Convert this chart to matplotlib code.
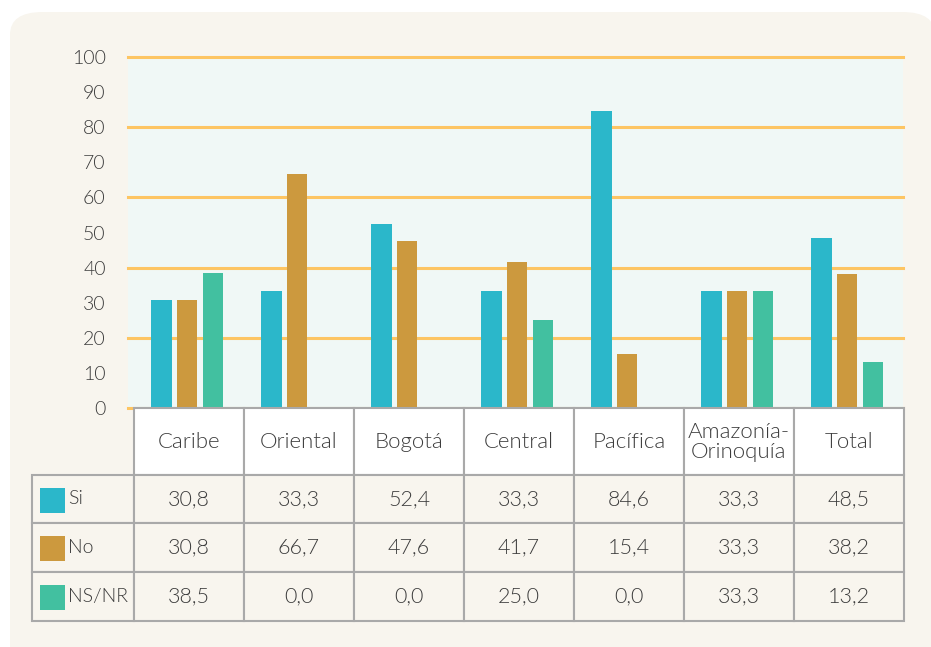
# Bar chart with a data table underneath: Si / No / NS-NR answers by region.

import matplotlib.pyplot as plt
from matplotlib.patches import Rectangle, FancyBboxPatch

# Data
REGIONS = ["Caribe", "Oriental", "Bogotá", "Central", "Pacífica",
           "Amazonía-\nOrinoquía", "Total"]
SI = [30.8, 33.3, 52.4, 33.3, 84.6, 33.3, 48.5]
NO = [30.8, 66.7, 47.6, 41.7, 15.4, 33.3, 38.2]
NSNR = [38.5, 0.0, 0.0, 25.0, 0.0, 33.3, 13.2]
SERIES_NAMES = ["Si", "No", "NS/NR"]
Y_TICKS = list(range(0, 101, 10))

# Styles
COLORS = ["#2bb7ca", "#cc993e", "#42c0a0"]
PANEL_BG = "#f8f5ee"
PLOT_BG = "#f0f8f6"
GRID_COLOR = "#fdc563"
LINE_COLOR = "#a9a9a9"
TEXT_COLOR = "#3c3c3c"
FONT = ["Lato", "DejaVu Sans"]

W, H = 931, 647
plt.rcParams["font.family"] = FONT
plt.rcParams["font.weight"] = 300


def fx(px):
    return px / W


def fy(py):
    return 1 - py / H


fig = plt.figure(figsize=(W / 100, H / 100), dpi=100)
fig.patch.set_facecolor("white")

# Rounded beige panel behind everything
panel = FancyBboxPatch((fx(10), fy(700)), fx(935) - fx(10), fy(12) - fy(700),
                       boxstyle="round,pad=0,rounding_size=0.035",
                       transform=fig.transFigure, facecolor=PANEL_BG,
                       edgecolor="none", zorder=-10)
fig.add_artist(panel)

# Plot area in pixel coordinates
left, right, top, bottom = 128, 903, 57, 408
ax = fig.add_axes([fx(left), fy(bottom), fx(right) - fx(left), fy(top) - fy(bottom)])
ax.set_facecolor(PLOT_BG)

col_w = 110
first_centre = 189
ax.set_xlim((left - first_centre) / col_w, (right - first_centre) / col_w)
ax.set_ylim(0, 100)

bar_w = 0.182
step = 0.236
shift = -0.014
x = list(range(len(REGIONS)))
for k, vals in enumerate([SI, NO, NSNR]):
    pos = [i + shift + (k - 1) * step for i in x]
    ax.bar(pos, vals, width=bar_w, color=COLORS[k], zorder=3)

for y in range(0, 101, 20):
    ax.axhline(y, color=GRID_COLOR, lw=2.2, zorder=2, clip_on=False)

for s in ax.spines.values():
    s.set_visible(False)
ax.set_xticks([])
ax.set_yticks(Y_TICKS)
ax.tick_params(axis="y", length=0, pad=16, labelsize=14, labelcolor=TEXT_COLOR)

# Data table drawn below the plot
col_left = 134
label_left = 32
header_top, header_bottom = 408, 475
row_edges = [475, 523, 572, 621]
n = len(REGIONS)


def cell(x0, y0, x1, y1, face):
    r = Rectangle((fx(x0), fy(y1)), fx(x1) - fx(x0), fy(y0) - fy(y1),
                  transform=fig.transFigure, facecolor=face,
                  edgecolor=LINE_COLOR, lw=1.5, zorder=5)
    fig.add_artist(r)


for i, name in enumerate(REGIONS):
    x0 = col_left + i * col_w
    cell(x0, header_top, x0 + col_w, header_bottom, "white")
    fig.text(fx(x0 + col_w / 2), fy((header_top + header_bottom) / 2), name,
             ha="center", va="center", fontsize=16, color=TEXT_COLOR,
             linespacing=1.0, zorder=6)

for r, (name, vals) in enumerate(zip(SERIES_NAMES, [SI, NO, NSNR])):
    y0, y1 = row_edges[r], row_edges[r + 1]
    cell(label_left, y0, col_left, y1, PANEL_BG)
    sq = Rectangle((fx(40), fy(y0 + 38)), fx(25), fy(y0) - fy(y0 + 25),
                   transform=fig.transFigure, facecolor=COLORS[r],
                   edgecolor="none", zorder=6)
    fig.add_artist(sq)
    fig.text(fx(68), fy((y0 + y1) / 2), name, ha="left", va="center",
             fontsize=14, color=TEXT_COLOR, zorder=6)
    for i, v in enumerate(vals):
        x0 = col_left + i * col_w
        cell(x0, y0, x0 + col_w, y1, PANEL_BG)
        fig.text(fx(x0 + col_w / 2), fy((y0 + y1) / 2),
                 f"{v:.1f}".replace(".", ","), ha="center", va="center",
                 fontsize=15.5, color=TEXT_COLOR, zorder=6)

fig.savefig("out.png", dpi=100, facecolor=fig.get_facecolor())
